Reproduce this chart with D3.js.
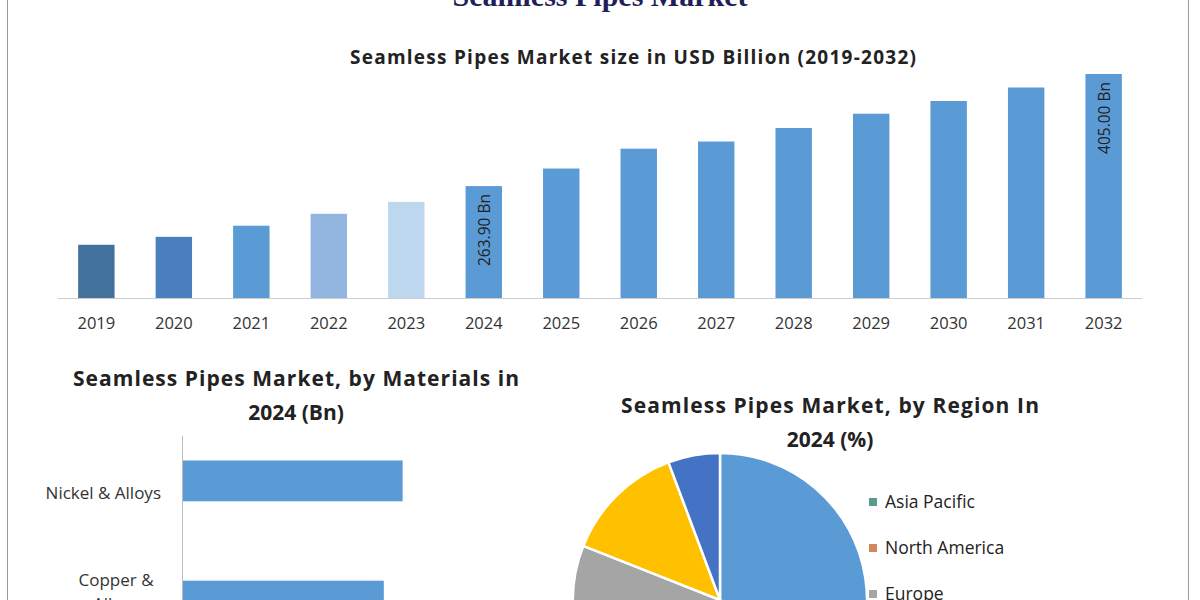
<!DOCTYPE html><html><head><meta charset="utf-8"><script src="https://cdn.jsdelivr.net/npm/d3@7"></script>
<style>body{margin:0;background:#fff}svg{display:block}</style></head><body><svg id="c" width="1200" height="600"></svg>
<script>
const years=["2019","2020","2021","2022","2023","2024","2025","2026","2027","2028","2029","2030","2031","2032"];
const sizes=[190,200,214,229,244,263.9,286,311,320,337,355,371,388,405];
const barColors=["#43719e","#4b80bf","#5b9bd5","#92b6e0","#bdd7ee","#5b9bd5","#5b9bd5","#5b9bd5","#5b9bd5","#5b9bd5","#5b9bd5","#5b9bd5","#5b9bd5","#5b9bd5"];
const valueLabels={"2024":"263.90 Bn","2032":"405.00 Bn"};
const materials=["Nickel & Alloys","Copper & Alloys"];
const materialVals=[35,32];
const regions=["Asia Pacific","North America","Europe","Middle East & Africa","South America"];
const regionShares=[45,15,21,13.3,5.7];
const regionColors=["#5b9bd5","#ed7d31","#a5a5a5","#ffc000","#4472c4"];
const legendDot=["#5a9a8c","#d0875a","#a5a5a5"];

const svg=d3.select("#c");
svg.append("rect").attr("x",7.5).attr("y",-2).attr("width",1181).attr("height",610).attr("fill","none").attr("stroke","#999");
svg.append("text").attr("x",600).attr("y",6).attr("text-anchor","middle").attr("font-family","'Liberation Serif',serif").attr("font-weight","bold").attr("font-size",30).attr("fill","#1f1f5a").text("Seamless Pipes Market");
svg.append("text").attr("x",633).attr("y",64).attr("text-anchor","middle").attr("font-family","'Open Sans',sans-serif").attr("font-weight","bold").attr("font-size",19).attr("fill","#222").attr("textLength",566).text("Seamless Pipes Market size in USD Billion (2019-2032)");

const x=d3.scaleBand().domain(years).range([58,1142]).paddingInner(0.53).paddingOuter(0.26);
const y=d3.scaleLinear().domain([123,405]).range([298,74]);
svg.selectAll(".b").data(years).join("rect").attr("x",d=>x(d)).attr("width",x.bandwidth()).attr("y",(d,i)=>y(sizes[i])).attr("height",(d,i)=>298-y(sizes[i])).attr("fill",(d,i)=>barColors[i]);
svg.append("line").attr("x1",58).attr("x2",1142).attr("y1",298.5).attr("y2",298.5).attr("stroke","#ccc");
const xa=svg.append("g").attr("transform","translate(0,298)").call(d3.axisBottom(x).tickSize(0).tickPadding(19));
xa.select(".domain").remove();
xa.selectAll("text").attr("font-family","'Open Sans',sans-serif").attr("font-size",16.5).attr("fill","#333");
years.forEach((d,i)=>{if(valueLabels[d]){const cx=x(d)+x.bandwidth()/2,cy=y(sizes[i])+8;
svg.append("text").attr("transform",`translate(${cx+6},${cy}) rotate(-90)`).attr("text-anchor","end").attr("font-family","'Open Sans',sans-serif").attr("font-size",15.5).attr("fill","#222").text(valueLabels[d]);}});

const tf="'Open Sans',sans-serif";
svg.append("text").attr("x",296).attr("y",386).attr("text-anchor","middle").attr("font-family",tf).attr("font-weight","bold").attr("font-size",21).attr("fill","#222").attr("textLength",446).text("Seamless Pipes Market, by Materials in");
svg.append("text").attr("x",296).attr("y",420).attr("text-anchor","middle").attr("font-family",tf).attr("font-weight","bold").attr("font-size",21).attr("fill","#222").text("2024 (Bn)");
const hx=d3.scaleLinear().domain([0,40]).range([183,434]);
const hy=d3.scaleBand().domain(materials).range([440,642]).paddingInner(0.66).paddingOuter(0.17);
svg.selectAll(".h").data(materials).join("rect").attr("x",hx(0)).attr("y",d=>hy(d)).attr("height",hy.bandwidth()).attr("width",(d,i)=>hx(materialVals[i])-hx(0)).attr("fill","#5b9bd5");
svg.append("line").attr("x1",182.5).attr("x2",182.5).attr("y1",436).attr("y2",600).attr("stroke","#bbb");
svg.append("text").attr("x",161).attr("y",499).attr("text-anchor","end").attr("font-family",tf).attr("font-size",17).attr("fill","#333").text("Nickel & Alloys");
svg.append("text").attr("x",116).attr("y",586).attr("text-anchor","middle").attr("font-family",tf).attr("font-size",17).attr("fill","#333").text("Copper &");
svg.append("text").attr("x",116).attr("y",610).attr("text-anchor","middle").attr("font-family",tf).attr("font-size",17).attr("fill","#333").text("Alloys");

svg.append("text").attr("x",830).attr("y",413).attr("text-anchor","middle").attr("font-family",tf).attr("font-weight","bold").attr("font-size",21).attr("fill","#222").attr("textLength",418).text("Seamless Pipes Market, by Region In");
svg.append("text").attr("x",830).attr("y",447).attr("text-anchor","middle").attr("font-family",tf).attr("font-weight","bold").attr("font-size",21).attr("fill","#222").text("2024 (%)");
const pie=d3.pie().sort(null)(regionShares);
const arc=d3.arc().innerRadius(0).outerRadius(147);
svg.append("g").attr("transform","translate(720,600)").selectAll("path").data(pie).join("path").attr("d",arc).attr("fill",(d,i)=>regionColors[i]).attr("stroke","#fff").attr("stroke-width",2.5);
regions.slice(0,3).forEach((r,i)=>{const ly=508+i*46;
svg.append("rect").attr("x",869).attr("y",ly-10).attr("width",8).attr("height",8).attr("fill",legendDot[i]);
svg.append("text").attr("x",885).attr("y",ly).attr("font-family",tf).attr("font-size",17.5).attr("fill","#222").text(r);});
</script></body></html>
